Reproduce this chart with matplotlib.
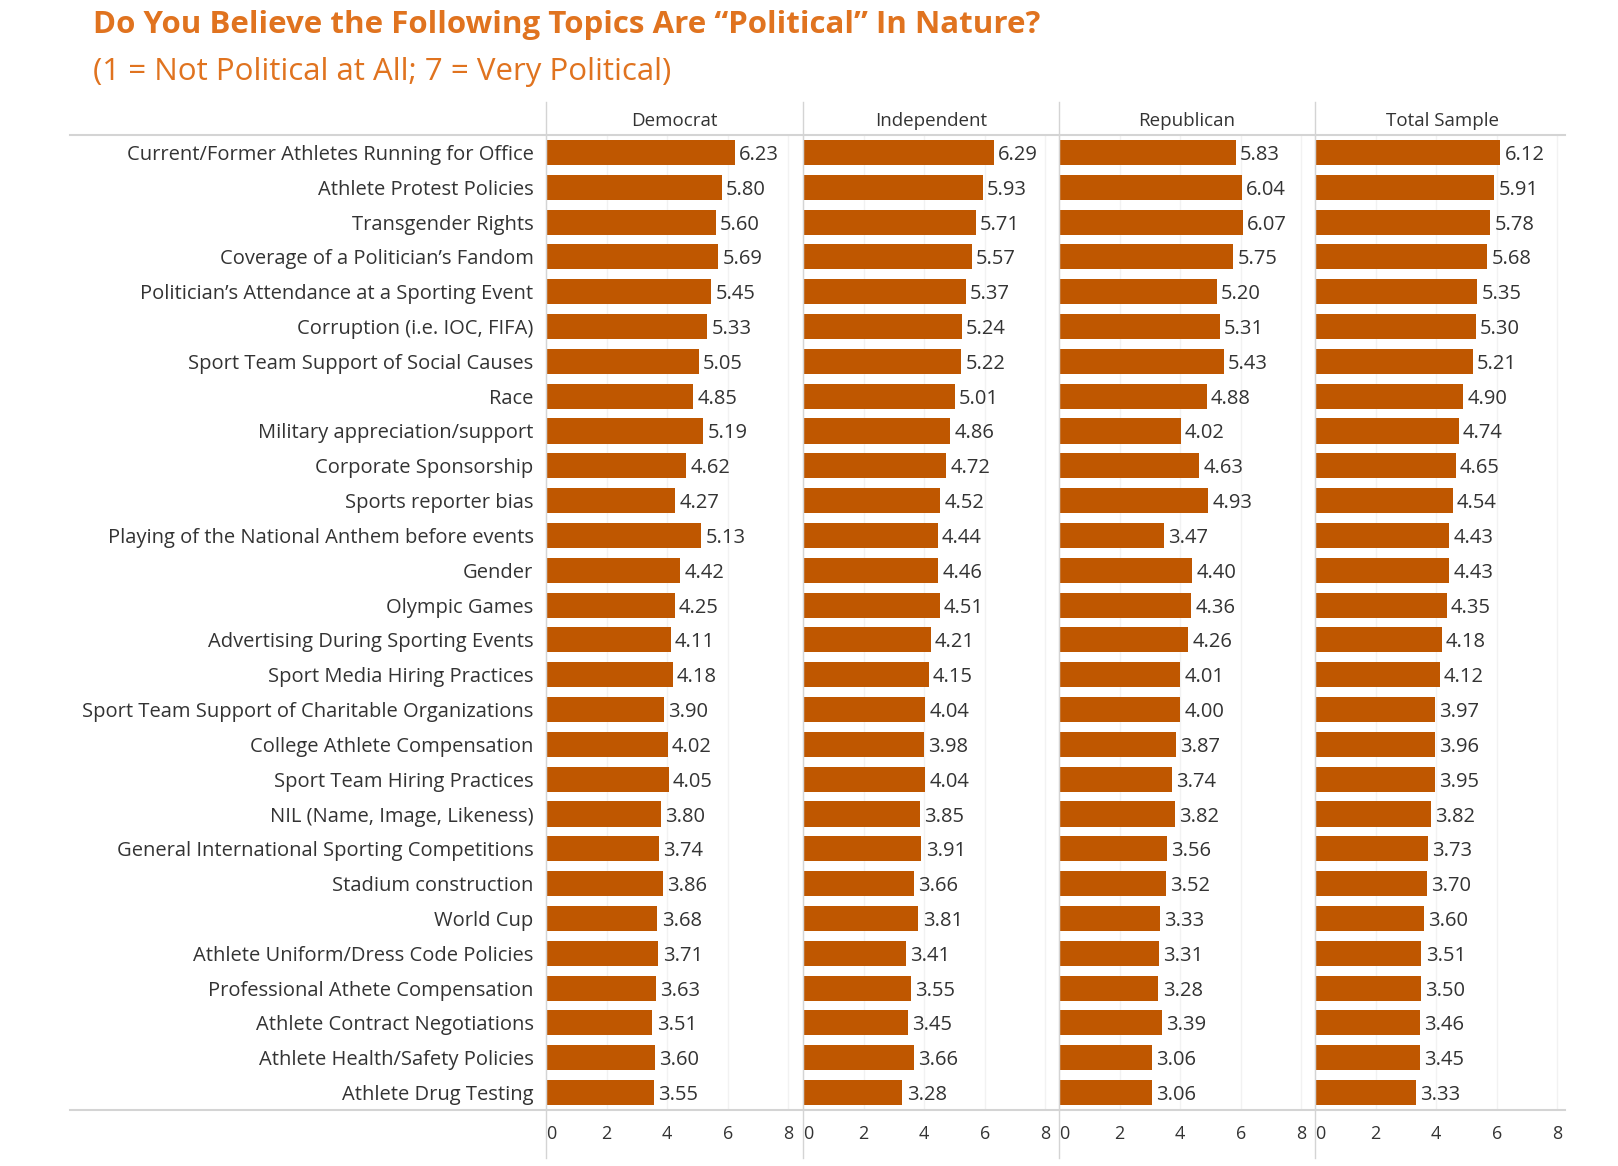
import numpy as np
import matplotlib.pyplot as plt

topics = [
    "Current/Former Athletes Running for Office",
    "Athlete Protest Policies",
    "Transgender Rights",
    "Coverage of a Politician\u2019s Fandom",
    "Politician\u2019s Attendance at a Sporting Event",
    "Corruption (i.e. IOC, FIFA)",
    "Sport Team Support of Social Causes",
    "Race",
    "Military appreciation/support",
    "Corporate Sponsorship",
    "Sports reporter bias",
    "Playing of the National Anthem before events",
    "Gender",
    "Olympic Games",
    "Advertising During Sporting Events",
    "Sport Media Hiring Practices",
    "Sport Team Support of Charitable Organizations",
    "College Athlete Compensation",
    "Sport Team Hiring Practices",
    "NIL (Name, Image, Likeness)",
    "General International Sporting Competitions",
    "Stadium construction",
    "World Cup",
    "Athlete Uniform/Dress Code Policies",
    "Professional Athete Compensation",
    "Athlete Contract Negotiations",
    "Athlete Health/Safety Policies",
    "Athlete Drug Testing",
]

groups = ["Democrat", "Independent", "Republican", "Total Sample"]

democrat = [6.23, 5.80, 5.60, 5.69, 5.45, 5.33, 5.05, 4.85, 5.19, 4.62, 4.27, 5.13, 4.42, 4.25,
            4.11, 4.18, 3.90, 4.02, 4.05, 3.80, 3.74, 3.86, 3.68, 3.71, 3.63, 3.51, 3.60, 3.55]
independent = [6.29, 5.93, 5.71, 5.57, 5.37, 5.24, 5.22, 5.01, 4.86, 4.72, 4.52, 4.44, 4.46, 4.51,
               4.21, 4.15, 4.04, 3.98, 4.04, 3.85, 3.91, 3.66, 3.81, 3.41, 3.55, 3.45, 3.66, 3.28]
republican = [5.83, 6.04, 6.07, 5.75, 5.20, 5.31, 5.43, 4.88, 4.02, 4.63, 4.93, 3.47, 4.40, 4.36,
              4.26, 4.01, 4.00, 3.87, 3.74, 3.82, 3.56, 3.52, 3.33, 3.31, 3.28, 3.39, 3.06, 3.06]
total = [6.12, 5.91, 5.78, 5.68, 5.35, 5.30, 5.21, 4.90, 4.74, 4.65, 4.54, 4.43, 4.43, 4.35,
         4.18, 4.12, 3.97, 3.96, 3.95, 3.82, 3.73, 3.70, 3.60, 3.51, 3.50, 3.46, 3.45, 3.33]

xticks = [0, 2, 4, 6, 8]

bar_color = "#BF5700"
title_color = "#E0731F"
text_color = "#333333"
line_color = "#D4D4D4"

W, H = 1618, 1166
fig = plt.figure(figsize=(W / 100, H / 100), dpi=100)
plt.rcParams['font.family'] = ['Open Sans', 'DejaVu Sans']

fig.text(93 / W, 1 - 25 / H, "Do You Believe the Following Topics Are \u201cPolitical\u201d In Nature?",
         color=title_color, fontsize=22.5, fontweight='bold', va='center', ha='left')
fig.text(93 / W, 1 - 72 / H, "(1 = Not Political at All; 7 = Very Political)",
         color=title_color, fontsize=22.5, va='center', ha='left')

top, bottom = 135, 1110
lefts = [546, 803, 1059, 1315]
pw = 256
y = np.arange(len(topics))

for i, (name, vals) in enumerate(zip(groups, [democrat, independent, republican, total])):
    ax = fig.add_axes([lefts[i] / W, 1 - bottom / H, pw / W, (bottom - top) / H])
    ax.barh(y, vals, height=0.72, color=bar_color, zorder=2)
    for yy, v in zip(y, vals):
        ax.text(v + 0.14, yy, f"{v:.2f}", va='center_baseline', ha='left', fontsize=14.5,
                color=text_color)
    ax.set_xlim(0, 8.45)
    ax.set_ylim(len(topics) - 0.5, -0.5)
    for t in xticks[1:]:
        ax.axvline(t, color="#F2F2F2", lw=1, zorder=0)
    ax.set_xticks(xticks)
    ax.set_xticklabels([str(t) for t in xticks], fontsize=13, color=text_color)
    ax.get_xticklabels()[0].set_ha('left')
    ax.tick_params(axis='x', length=0, pad=11)
    ax.set_yticks([])
    for s in ['top', 'right', 'bottom']:
        ax.spines[s].set_visible(False)
    ax.spines['left'].set_color(line_color)
    if i == 0:
        ax.set_yticks(y)
        ax.set_yticklabels(topics, fontsize=14.5, color=text_color)
        ax.tick_params(axis='y', length=0, pad=9)
    fig.text((lefts[i] + pw / 2) / W, 1 - 121 / H, name, ha='center', va='center',
             fontsize=13.5, color=text_color)
    # divider extending above and below the plot area
    fig.add_artist(plt.Line2D([lefts[i] / W, lefts[i] / W], [1 - 102 / H, 1 - 1158 / H],
                              color=line_color, lw=1))

for yy in [top, bottom]:
    fig.add_artist(plt.Line2D([70 / W, 1565 / W], [1 - yy / H, 1 - yy / H], color=line_color, lw=1.5))

fig.savefig("out.png", dpi=100)
